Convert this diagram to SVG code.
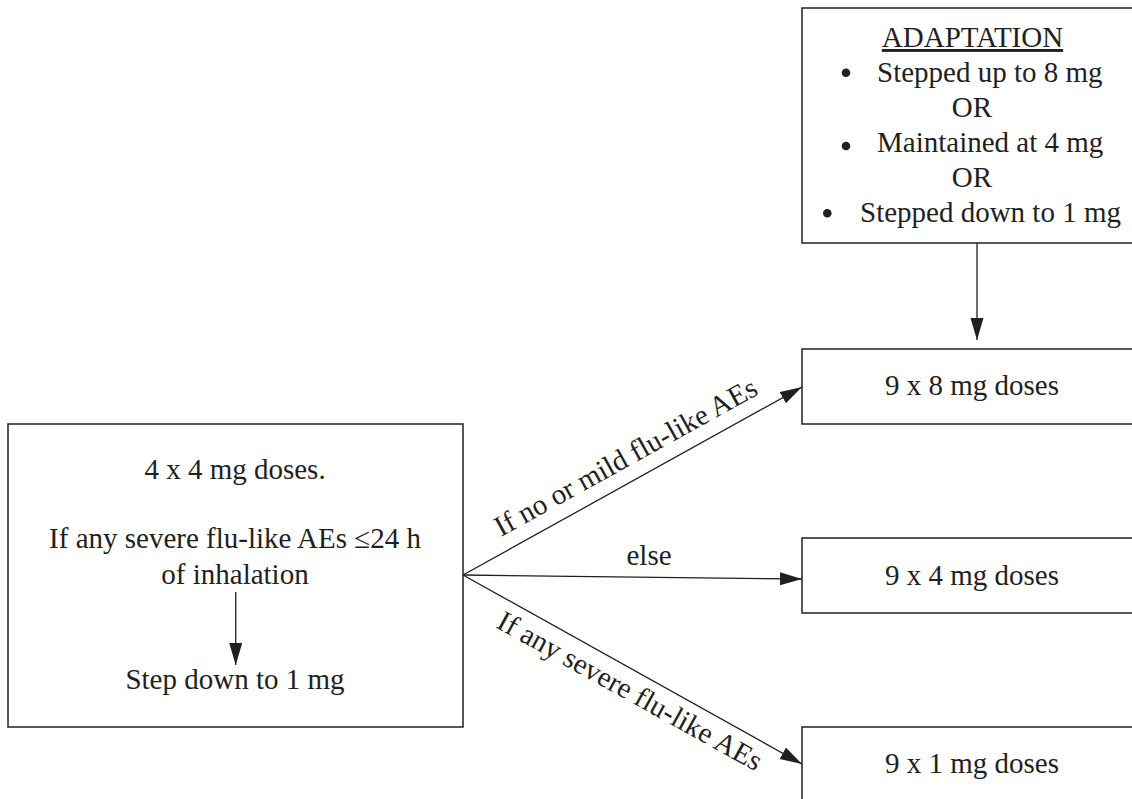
<svg xmlns="http://www.w3.org/2000/svg" width="1132" height="799" viewBox="0 0 1132 799">
  <style>
    text { font-family: "Liberation Serif", "Times New Roman", serif; font-size: 29px; fill: #231f20; }
    .box { fill: #ffffff; stroke: #231f20; stroke-width: 1.5; }
    .conn { stroke: #231f20; stroke-width: 1.3; fill: none; marker-end: url(#arrow); }
    .mid { text-anchor: middle; }
  </style>
  <defs>
    <marker id="arrow" markerUnits="userSpaceOnUse" markerWidth="22" markerHeight="14" refX="22" refY="6.5" orient="auto">
      <path d="M0,0 L22,6.5 L0,13 z" fill="#231f20"/>
    </marker>
  </defs>
  <rect width="1132" height="799" fill="#ffffff"/>

  <g id="adaptation">
    <rect class="box" x="802" y="8" width="340" height="235"/>
    <text class="mid" x="972.5" y="47" text-decoration="underline">ADAPTATION</text>
    <circle cx="846" cy="72.7" r="4.3" fill="#231f20"/>
    <text x="877" y="82">Stepped up to 8 mg</text>
    <text class="mid" x="972" y="117">OR</text>
    <circle cx="846" cy="146" r="4.3" fill="#231f20"/>
    <text x="877" y="152">Maintained at 4 mg</text>
    <text class="mid" x="972" y="187">OR</text>
    <circle cx="827.3" cy="213.3" r="4.3" fill="#231f20"/>
    <text x="860" y="222">Stepped down to 1 mg</text>
  </g>

  <g id="dose8">
    <rect class="box" x="802" y="349" width="340" height="75"/>
    <text class="mid" x="972" y="395">9 x 8 mg doses</text>
  </g>

  <g id="dose4">
    <rect class="box" x="802" y="538" width="340" height="75"/>
    <text class="mid" x="972" y="585">9 x 4 mg doses</text>
  </g>

  <g id="dose1">
    <rect class="box" x="802" y="727" width="340" height="90"/>
    <text class="mid" x="972" y="773">9 x 1 mg doses</text>
  </g>

  <g id="start">
    <rect class="box" x="8" y="424" width="455" height="303"/>
    <text class="mid" x="235" y="479">4 x 4 mg doses.</text>
    <text class="mid" x="235" y="548">If any severe flu-like AEs ≤24 h</text>
    <text class="mid" x="235" y="584">of inhalation</text>
    <line class="conn" x1="235.7" y1="592" x2="235.7" y2="665"/>
    <text class="mid" x="235" y="689">Step down to 1 mg</text>
  </g>

  <g id="connectors">
    <line class="conn" x1="977" y1="243" x2="977" y2="340"/>
    <line class="conn" x1="463" y1="575" x2="802" y2="387"/>
    <line class="conn" x1="463" y1="575" x2="802" y2="579"/>
    <line class="conn" x1="463" y1="575" x2="802" y2="764"/>
    <text transform="translate(501,537) rotate(-29)">If no or mild flu-like AEs</text>
    <text class="mid" x="649" y="565">else</text>
    <text transform="translate(495,627) rotate(29)">If any severe flu-like AEs</text>
  </g>
</svg>
